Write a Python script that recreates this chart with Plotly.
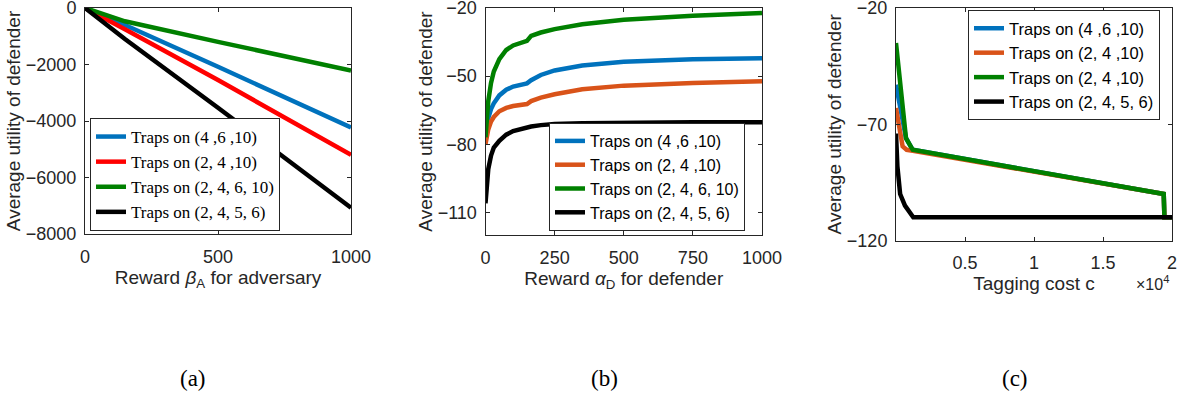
import plotly.graph_objects as go

# ---------------- data ----------------
# (a) reward beta_A for adversary
beta_a = [0, 150, 500, 1000]
a_blue = [0, -600, -2080, -4230]
a_red = [0, -750, -2550, -5200]
a_green = [0, -470, -1200, -2210]
a_black = [0, -1100, -3530, -7070]

# (b) reward alpha_D for defender
alpha_d = [0, 5, 10, 20, 30, 50, 75, 100, 125, 150, 165, 200, 250, 350, 500, 750, 1000]
b_blue = [-77.3, -72, -68.5, -64.5, -62, -58.5, -56, -54.6, -53.8, -53.2, -51.8, -49.5, -47.5, -45.3, -43.7, -42.6, -42.1]
b_orange = [-80, -76.5, -73.5, -70, -68, -65.5, -64, -63.2, -62.7, -62.3, -61, -59.5, -58, -55.8, -54.2, -53, -52.3]
b_green = [-77, -68, -61, -53, -48, -42.5, -38.5, -36.5, -35.3, -34.5, -32.3, -30.8, -29.3, -27.2, -25.2, -23.4, -22.2]
b_black = [-106, -97, -91, -85, -81.5, -78.5, -75.8, -74.2, -73.3, -72.6, -72.2, -71.6, -71.1, -70.8, -70.5, -70.35, -70.3]

# (c) tagging cost c
c_blue_x = [0, 725, 1210, 19400, 19450, 20000]
c_blue = [-53, -76, -81, -100, -110, -110]
c_orange_x = [0, 480, 775, 1210, 19400, 19450, 20000]
c_orange = [-63, -79.5, -81, -81.4, -100, -110, -110]
c_green_x = [0, 725, 1210, 19400, 19450, 20000]
c_green = [-35, -76, -81, -100, -110, -110]
c_black_x = [0, 100, 300, 650, 1250, 20000]
c_black = [-74, -88, -100, -105, -110, -110]

names_a = ["Traps on (4 ,6 ,10)", "Traps on (2, 4 ,10)", "Traps on (2, 4, 6, 10)", "Traps on (2, 4, 5, 6)"]
names_b = ["Traps on (4 ,6 ,10)", "Traps on (2, 4 ,10)", "Traps on (2, 4, 6, 10)", "Traps on (2, 4, 5, 6)"]
names_c = ["Traps on (4 ,6 ,10)", "Traps on (2, 4 ,10)", "Traps on (2, 4 ,10)", "Traps on (2, 4, 5, 6)"]

BLUE = "#0072BD"
ORANGE = "#D95319"
RED = "#FF0000"
GREEN = "#008000"
BLACK = "#000000"
LW = 4.5

W, H = 1182, 396
SANS = "Liberation Sans, Arial, sans-serif"
SERIF = "Liberation Serif, Times New Roman, serif"
AX = "#262626"

fig = go.Figure()

def add(x, y, name, color, xa, ya, legend):
    fig.add_trace(go.Scatter(x=x, y=y, name=name, mode="lines",
                             line=dict(color=color, width=LW),
                             xaxis=xa, yaxis=ya, legend=legend))

add(beta_a, a_blue, names_a[0], BLUE, "x", "y", "legend")
add(beta_a, a_red, names_a[1], RED, "x", "y", "legend")
add(beta_a, a_green, names_a[2], GREEN, "x", "y", "legend")
add(beta_a, a_black, names_a[3], BLACK, "x", "y", "legend")

add(alpha_d, b_blue, names_b[0], BLUE, "x2", "y2", "legend2")
add(alpha_d, b_orange, names_b[1], ORANGE, "x2", "y2", "legend2")
add(alpha_d, b_green, names_b[2], GREEN, "x2", "y2", "legend2")
add(alpha_d, b_black, names_b[3], BLACK, "x2", "y2", "legend2")

add(c_blue_x, c_blue, names_c[0], BLUE, "x3", "y3", "legend3")
add(c_orange_x, c_orange, names_c[1], ORANGE, "x3", "y3", "legend3")
add(c_green_x, c_green, names_c[2], GREEN, "x3", "y3", "legend3")
add(c_black_x, c_black, names_c[3], BLACK, "x3", "y3", "legend3")

def px_x(p):
    return p / W

def px_y(p):
    return 1 - p / H

common = dict(showline=True, linecolor=AX, linewidth=1, mirror="ticks",
              ticks="inside", ticklen=4, tickcolor=AX, showgrid=False,
              zeroline=False, automargin=False, ticklabeloverflow="allow",
              tickfont=dict(family=SANS, size=18, color=AX))
xcommon = dict(common, ticklabelstandoff=6)
ycommon = dict(common, ticklabelstandoff=4)

tf = dict(family=SANS, size=19, color=AX)
TOP = 8

fig.update_layout(
    width=W, height=H, margin=dict(l=0, r=0, t=0, b=0),
    paper_bgcolor="white", plot_bgcolor="white", showlegend=True,
    xaxis=dict(domain=[px_x(85), px_x(351)], range=[0, 1000], tickvals=[0, 500, 1000],
               title=dict(text="Reward <i>β</i><sub>A</sub> for adversary", font=tf, standoff=3),
               anchor="y", **xcommon),
    yaxis=dict(domain=[px_y(234), px_y(TOP)], range=[-8000, 0],
               tickvals=[0, -2000, -4000, -6000, -8000],
               title=dict(text="Average utility of defender", font=tf, standoff=0),
               anchor="x", **ycommon),
    xaxis2=dict(domain=[px_x(485.5), px_x(762)], range=[0, 1000], tickvals=[0, 250, 500, 750, 1000],
                title=dict(text="Reward <i>α</i><sub>D</sub> for defender", font=tf, standoff=3),
                anchor="y2", **xcommon),
    yaxis2=dict(domain=[px_y(235), px_y(TOP)], range=[-120, -20],
                tickvals=[-20, -50, -80, -110],
                title=dict(text="Average utility of defender", font=tf, standoff=0),
                anchor="x2", **ycommon),
    xaxis3=dict(domain=[px_x(896), px_x(1172)], range=[0, 20000],
                tickvals=[5000, 10000, 15000, 20000], ticktext=["0.5", "1", "1.5", "2"],
                title=dict(text="Tagging cost c", font=tf, standoff=3),
                anchor="y3", **xcommon),
    yaxis3=dict(domain=[px_y(240.5), px_y(TOP)], range=[-120, -20],
                tickvals=[-20, -70, -120],
                title=dict(text="Average utility of defender", font=tf, standoff=0),
                anchor="x3", **ycommon),
    legend=dict(x=px_x(90), y=px_y(231), xanchor="left", yanchor="bottom",
                bgcolor="white", bordercolor=AX, borderwidth=1,
                font=dict(family=SERIF, size=17, color="#000000"),
                tracegroupgap=0, itemwidth=30),
    legend2=dict(x=px_x(549), y=px_y(231), xanchor="left", yanchor="bottom",
                 bgcolor="white", bordercolor=AX, borderwidth=1,
                 font=dict(family=SANS, size=16, color="#000000"),
                 tracegroupgap=0, itemwidth=30),
    legend3=dict(x=px_x(968), y=px_y(10), xanchor="left", yanchor="top",
                 bgcolor="white", bordercolor=AX, borderwidth=1,
                 font=dict(family=SANS, size=16.5, color="#000000"),
                 tracegroupgap=0, itemwidth=30),
)

annotations = [
    dict(text="×10<sup>4</sup>", x=px_x(1152), y=px_y(283), xref="paper", yref="paper",
         xanchor="center", yanchor="middle",
         showarrow=False, font=dict(family=SANS, size=16, color=AX)),
    dict(text="(a)", x=px_x(193), y=px_y(378), xref="paper", yref="paper",
         xanchor="center", yanchor="middle",
         showarrow=False, font=dict(family=SERIF, size=23, color="#000000")),
    dict(text="(b)", x=px_x(604), y=px_y(378), xref="paper", yref="paper",
         xanchor="center", yanchor="middle",
         showarrow=False, font=dict(family=SERIF, size=23, color="#000000")),
    dict(text="(c)", x=px_x(1015), y=px_y(378), xref="paper", yref="paper",
         xanchor="center", yanchor="middle",
         showarrow=False, font=dict(family=SERIF, size=23, color="#000000")),
]
fig.update_layout(annotations=annotations)

fig.write_html("out.html", config={"displayModeBar": False},
               post_script="document.body.style.margin='0';")
